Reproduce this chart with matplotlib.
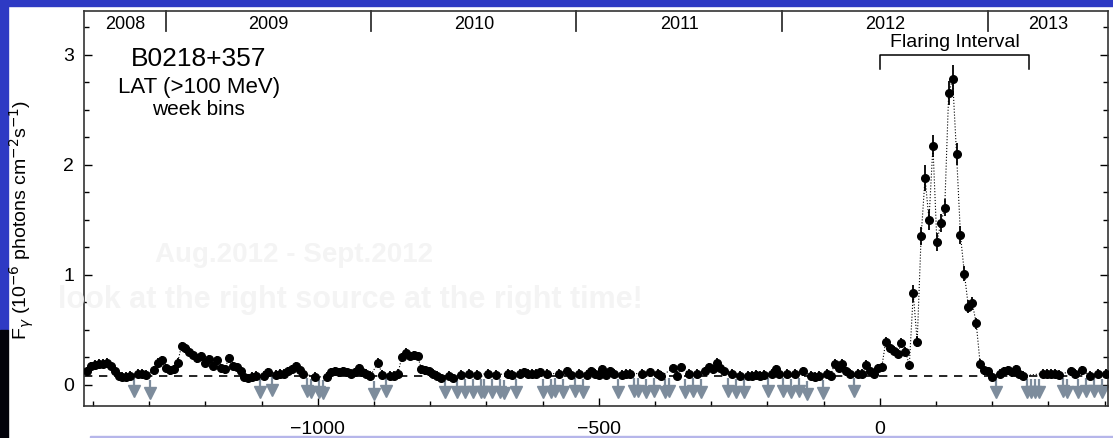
import numpy as np
import matplotlib
matplotlib.use("Agg")
import matplotlib.pyplot as plt
from matplotlib.patches import Rectangle
import matplotlib.transforms as mtransforms

plt.rcParams['font.family'] = ['Liberation Sans', 'DejaVu Sans']

# ---------------- data ----------------
t_start = -1410.5          # centre of first weekly bin (days)
bin_width = 7.0            # days
# weekly flux (1e-6 ph cm^-2 s^-1); upper limits flagged in ul_flags
flux = [
    0.12, 0.17, 0.18, 0.19, 0.19, 0.20, 0.17, 0.12, 0.08, 0.07,
    0.07, 0.08, 0.06, 0.10, 0.10, 0.09, 0.04, 0.13, 0.20, 0.22,
    0.15, 0.13, 0.14, 0.20, 0.35, 0.33, 0.30, 0.27, 0.24, 0.26,
    0.20, 0.23, 0.17, 0.22, 0.15, 0.14, 0.24, 0.17, 0.16, 0.12,
    0.07, 0.06, 0.07, 0.08, 0.05, 0.08, 0.11, 0.07, 0.09, 0.10,
    0.10, 0.12, 0.14, 0.17, 0.13, 0.10, 0.06, 0.05, 0.07, 0.05,
    0.04, 0.07, 0.11, 0.12, 0.11, 0.12, 0.11, 0.10, 0.11, 0.15,
    0.11, 0.10, 0.08, 0.03, 0.20, 0.09, 0.06, 0.08, 0.08, 0.10,
    0.25, 0.29, 0.26, 0.27, 0.26, 0.14, 0.13, 0.12, 0.10, 0.08,
    0.06, 0.05, 0.08, 0.06, 0.05, 0.09, 0.05, 0.10, 0.05, 0.09,
    0.05, 0.05, 0.10, 0.05, 0.09, 0.05, 0.04, 0.10, 0.09, 0.05,
    0.10, 0.11, 0.10, 0.10, 0.10, 0.11, 0.05, 0.10, 0.05, 0.06,
    0.10, 0.05, 0.12, 0.09, 0.06, 0.10, 0.05, 0.09, 0.12, 0.10,
    0.09, 0.14, 0.09, 0.12, 0.10, 0.05, 0.09, 0.10, 0.10, 0.06,
    0.06, 0.10, 0.05, 0.11, 0.06, 0.10, 0.08, 0.05, 0.06, 0.15,
    0.08, 0.16, 0.05, 0.10, 0.06, 0.10, 0.05, 0.12, 0.16, 0.14,
    0.20, 0.15, 0.12, 0.06, 0.10, 0.05, 0.08, 0.05, 0.08, 0.08,
    0.09, 0.08, 0.09, 0.06, 0.10, 0.14, 0.10, 0.06, 0.10, 0.05,
    0.10, 0.06, 0.12, 0.03, 0.08, 0.07, 0.08, 0.04, 0.10, 0.08,
    0.19, 0.15, 0.19, 0.12, 0.10, 0.06, 0.10, 0.10, 0.18, 0.12,
    0.10, 0.15, 0.16, 0.39, 0.33, 0.31, 0.28, 0.38, 0.30, 0.18,
    0.83, 0.39, 1.35, 1.88, 1.50, 2.17, 1.30, 1.47, 1.61, 2.65,
    2.78, 2.10, 1.36, 1.01, 0.71, 0.74, 0.56, 0.19, 0.13, 0.12,
    0.07, 0.05, 0.10, 0.12, 0.13, 0.11, 0.14, 0.10, 0.08, 0.05,
    0.05, 0.05, 0.05, 0.10, 0.10, 0.10, 0.10, 0.09, 0.06, 0.05,
    0.12, 0.10, 0.05, 0.13, 0.06, 0.08, 0.06, 0.10, 0.05, 0.10,
]
ul_flags = [
    0, 0, 0, 0, 0, 0, 0, 0, 0, 0,
    0, 0, 1, 0, 0, 0, 1, 0, 0, 0,
    0, 0, 0, 0, 0, 0, 0, 0, 0, 0,
    0, 0, 0, 0, 0, 0, 0, 0, 0, 0,
    0, 0, 0, 0, 1, 0, 0, 1, 0, 0,
    0, 0, 0, 0, 0, 0, 1, 1, 0, 1,
    1, 0, 0, 0, 0, 0, 0, 0, 0, 0,
    0, 0, 0, 1, 0, 0, 1, 0, 0, 0,
    0, 0, 0, 0, 0, 0, 0, 0, 0, 0,
    0, 1, 0, 0, 1, 0, 1, 0, 1, 0,
    1, 1, 0, 1, 0, 1, 1, 0, 0, 1,
    0, 0, 0, 0, 0, 0, 1, 0, 1, 1,
    0, 1, 0, 0, 1, 0, 1, 0, 0, 0,
    0, 0, 0, 0, 0, 1, 0, 0, 0, 1,
    1, 0, 1, 0, 1, 0, 0, 1, 1, 0,
    0, 0, 1, 0, 1, 0, 1, 0, 0, 0,
    0, 0, 0, 1, 0, 1, 0, 1, 0, 0,
    0, 0, 0, 1, 0, 0, 0, 1, 0, 1,
    0, 1, 0, 1, 0, 0, 0, 1, 0, 0,
    0, 0, 0, 0, 0, 1, 0, 0, 0, 0,
    0, 0, 0, 0, 0, 0, 0, 0, 0, 0,
    0, 0, 0, 0, 0, 0, 0, 0, 0, 0,
    0, 0, 0, 0, 0, 0, 0, 0, 0, 0,
    0, 1, 0, 0, 0, 0, 0, 0, 0, 1,
    1, 1, 1, 0, 0, 0, 0, 0, 1, 1,
    0, 0, 1, 0, 1, 0, 1, 0, 1, 0,
]
# flux errors for the flaring weeks (bin index -> error); others use base_err
flare_err = {
    203: 0.04, 204: 0.04, 205: 0.04, 206: 0.04, 207: 0.04, 208: 0.04,
    209: 0.03, 210: 0.08, 211: 0.05, 212: 0.08, 213: 0.12, 214: 0.09,
    215: 0.10, 216: 0.08, 217: 0.08, 218: 0.08, 219: 0.11, 220: 0.13,
    221: 0.10, 222: 0.08, 223: 0.07, 224: 0.06, 225: 0.06, 226: 0.05,
    227: 0.04, 228: 0.04, 229: 0.04,
}
base_err = 0.04
mean_flux = 0.075

year_edges = [-1270, -905, -540, -174, 192]
year_labels = ['2008', '2009', '2010', '2011', '2012', '2013']
flare_interval = (0, 266)

xlim = (-1416, 406)
ylim = (-0.195, 3.40)

# ---------------- figure ----------------
W, H = 1113, 438
fig = plt.figure(figsize=(W / 100, H / 100), dpi=100)
fig.patch.set_facecolor('white')

# slide decorations
fig.patches.append(Rectangle((0, 1 - 6 / H), 1, 6 / H, transform=fig.transFigure,
                             color='#2e3ac4', zorder=0))
fig.patches.append(Rectangle((0, 108 / H), 8 / W, 1 - 108 / H, transform=fig.transFigure,
                             color='#2e3ac4', zorder=0))
fig.patches.append(Rectangle((0, 0), 8 / W, 108 / H, transform=fig.transFigure,
                             color='#02020a', zorder=0))
fig.patches.append(Rectangle((90 / W, 0), 1 - 90 / W, 2 / H, transform=fig.transFigure,
                             color='#b6b6ea', zorder=0))

# faint ghost text from the slide underneath
fig.text(155 / W, 1 - 255 / H, 'Aug.2012 - Sept.2012', fontsize=20, color='#f4f4f4',
         fontweight='bold', ha='left', va='center', zorder=0)
fig.text(58 / W, 1 - 300 / H, 'look at the right source at the right time!',
         fontsize=22, color='#f4f4f4', fontweight='bold', ha='left', va='center',
         zorder=0)

ax = fig.add_axes([84 / W, (H - 406) / H, (1108 - 84) / W, (406 - 11) / H])
ax.patch.set_alpha(0)
ax.set_xlim(*xlim)
ax.set_ylim(*ylim)

flux = np.array(flux)
ul = np.array(ul_flags, dtype=bool)
t = t_start + bin_width * np.arange(len(flux))
err = np.array([flare_err.get(i, base_err) for i in range(len(flux))])

# dashed mean level
ax.axhline(mean_flux, color='black', lw=1.2, ls=(0, (5, 4)), zorder=1)

gray = '#7d8c9c'
# upper limits
for ti, fi in zip(t[ul], flux[ul]):
    ax.plot([ti, ti], [fi, fi - 0.1], color=gray, lw=1.6, zorder=2,
            solid_capstyle='butt')
ax.plot(t[ul], flux[ul] - 0.12, ls='none', marker='v', ms=8, color=gray,
        mec=gray, zorder=2)

# detections
det = ~ul
ax.plot(t[det], flux[det], color='black', lw=0.8, ls=':', zorder=3)
ax.errorbar(t[det], flux[det], yerr=err[det], fmt='o', ms=5.5, color='black',
            ecolor='black', elinewidth=1.3, capsize=0, zorder=4)

# ticks
ax.set_xticks([-1000, -500, 0])
ax.set_xticklabels(['\u22121000', '\u2212500', '0'])
ax.set_xticks(np.arange(-1400, 401, 100), minor=True)
ax.set_yticks([0, 1, 2, 3])
ax.set_yticks(np.arange(0, 3.3, 0.25), minor=True)
ax.tick_params(axis='x', which='both', direction='in', bottom=True, top=False,
               labelsize=14, pad=11)
ax.tick_params(axis='x', which='major', length=6, width=1)
ax.tick_params(axis='x', which='minor', length=3.5, width=1)
ax.tick_params(axis='y', which='both', direction='in', left=True, right=True,
               labelsize=14, pad=7)
ax.tick_params(axis='y', which='major', length=6, width=1)
ax.tick_params(axis='y', which='minor', length=3.5, width=1)
for s in ax.spines.values():
    s.set_linewidth(1.2)
    s.set_color('#333333')

# year axis along the top
trans = mtransforms.blended_transform_factory(ax.transData, ax.transAxes)
for e in year_edges:
    ax.plot([e, e], [1.0, 0.949], transform=trans, color='#333333', lw=1.3,
            clip_on=False, zorder=5)
bounds = [xlim[0]] + year_edges + [xlim[1]]
for lab, a, b in zip(year_labels, bounds[:-1], bounds[1:]):
    ax.text((a + b) / 2, 0.965, lab, transform=trans, ha='center', va='center',
            fontsize=13)

# flaring interval bracket
fa, fb = flare_interval
ax.plot([fa, fa, fb, fb], [2.87, 3.0, 3.0, 2.87], color='black', lw=1.1, zorder=5)
ax.text((fa + fb) / 2, 3.11, 'Flaring Interval', ha='center', va='center', fontsize=14)

# source labels
ax.text(-1212, 2.96, 'B0218+357', ha='center', va='center', fontsize=19)
ax.text(-1212, 2.70, 'LAT (>100 MeV)', ha='center', va='center', fontsize=16)
ax.text(-1212, 2.50, 'week bins', ha='center', va='center', fontsize=15)

fig.text(22 / W, 1 - 220 / H,
         r'F$_{\gamma}$ (10$^{-6}$ photons cm$^{-2}$s$^{-1}$)',
         rotation=90, ha='center', va='center', fontsize=14)

fig.savefig('out.png', dpi=100)
